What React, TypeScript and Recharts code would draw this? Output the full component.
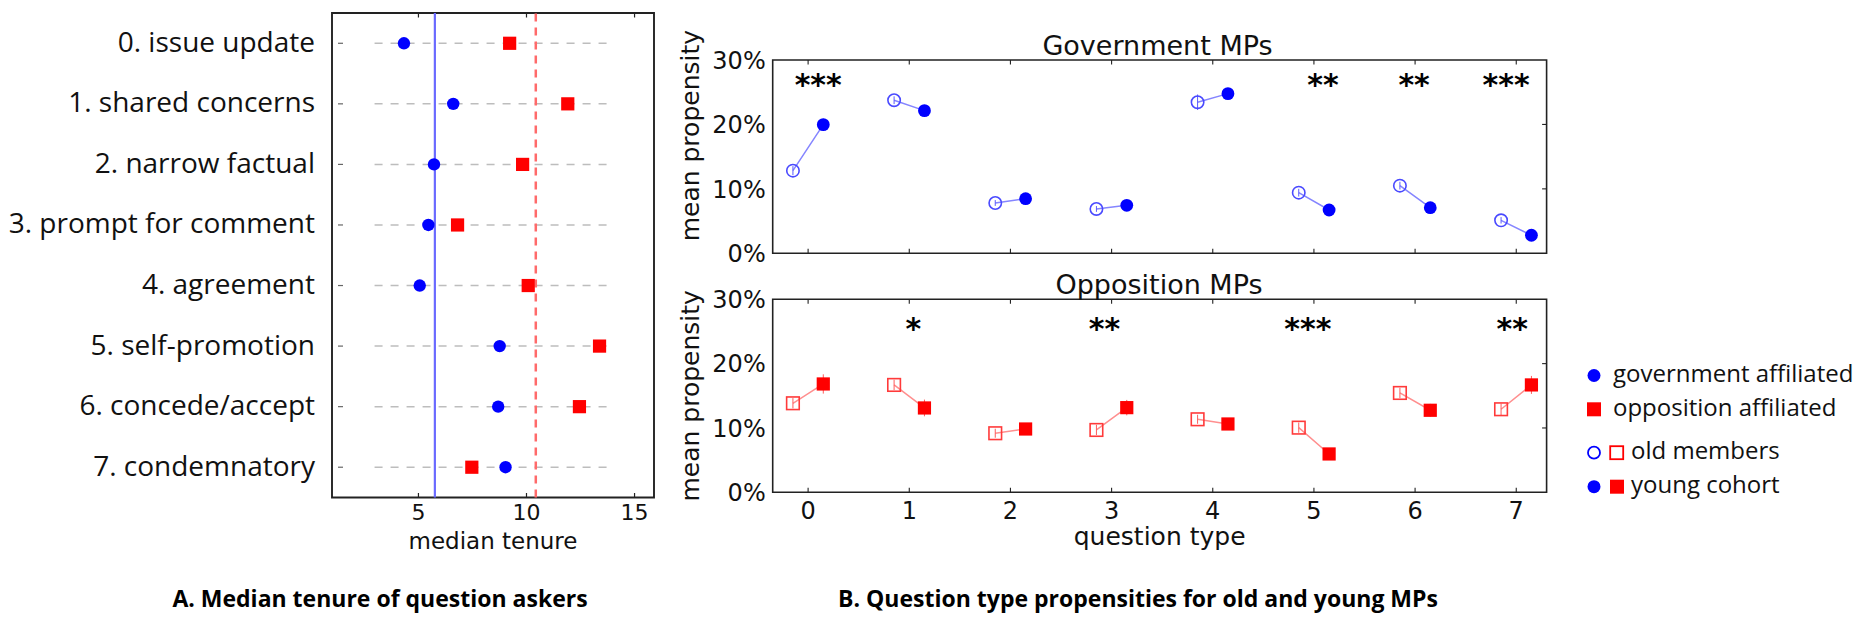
import React from 'react';
import {
  ComposedChart,
  Scatter,
  Line,
  XAxis,
  YAxis,
  ReferenceLine,
  ReferenceArea,
  ErrorBar,
  Label,
} from 'recharts';

// ---------- Panel A: median tenure of question askers ----------
const categories = [
  '0. issue update',
  '1. shared concerns',
  '2. narrow factual',
  '3. prompt for comment',
  '4. agreement',
  '5. self-promotion',
  '6. concede/accept',
  '7. condemnatory',
];
const categoryIndex = [0, 1, 2, 3, 4, 5, 6, 7];
const govMedianTenure = [4.33, 6.61, 5.72, 5.46, 5.06, 8.76, 8.69, 9.03];
const oppMedianTenure = [9.22, 11.91, 9.82, 6.81, 10.08, 13.38, 12.45, 7.47];
const govOverallTenure = 5.76;
const oppOverallTenure = 10.43;
const tenureTicks = [5, 10, 15];
const tenureDomain = [1, 15.9];
const rowDomain = [-0.5, 7.5];
const guideSpan = [2.97, 13.87];

// ---------- Panel B: question type propensities ----------
const questionTypes = [0, 1, 2, 3, 4, 5, 6, 7];
const govOld = [12.83, 23.76, 7.81, 6.88, 23.45, 9.41, 10.5, 5.12];
const govOldErr = [0.7, 0.6, 0.45, 0.45, 1.2, 0.6, 0.6, 0.5];
const govYoung = [19.97, 22.14, 8.48, 7.45, 24.78, 6.72, 7.08, 2.8];
const govYoungErr = [0.9, 0.8, 0.5, 0.5, 0.8, 0.6, 0.6, 0.5];
const oppOld = [13.84, 16.69, 9.18, 9.69, 11.35, 10.05, 15.44, 12.91];
const oppOldErr = [0.8, 0.8, 0.7, 0.8, 0.7, 0.8, 0.8, 0.9];
const oppYoung = [16.84, 13.11, 9.84, 13.16, 10.62, 5.96, 12.75, 16.69];
const oppYoungErr = [1.5, 1.3, 0.8, 1.2, 0.8, 0.7, 1.0, 1.4];
const govStarX = [0.1, 5.09, 5.99, 6.9];
const govStarText = ['***', '**', '**', '***'];
const govStarY = 24.6;
const oppStarX = [1.04, 2.93, 4.94, 6.96];
const oppStarText = ['*', '**', '***', '**'];
const oppStarY = 23.8;
const propensityTicks = [0, 10, 20, 30];
const propensityDomain = [0, 30];
const questionDomain = [-0.35, 7.3];
const cohortOffset = 0.15;

const BLUE = '#0000ff';
const RED = '#ff0000';
const DEJAVU = 'DejaVu Sans';
const OPEN = 'Open Sans';
const BOX = '#222';

// ---------- shapes ----------
const filledCircle = (fill: string, r: number) => (p: any) => (
  <circle cx={p.cx} cy={p.cy} r={r} fill={fill} />
);
const openCircle = (stroke: string, r: number) => (p: any) => (
  <circle cx={p.cx} cy={p.cy} r={r} fill="none" stroke={stroke} strokeWidth={1.6} />
);
const filledSquare = (fill: string, s: number) => (p: any) => (
  <rect x={p.cx - s / 2} y={p.cy - s / 2} width={s} height={s} fill={fill} />
);
const openSquare = (stroke: string, s: number) => (p: any) => (
  <rect x={p.cx - s / 2} y={p.cy - s / 2} width={s} height={s} fill="none" stroke={stroke} strokeWidth={1.6} />
);
const starShape = (p: any) => (
  <text x={p.cx} y={p.cy} textAnchor="middle" fontFamily={DEJAVU} fontWeight="bold" fontSize={30} fill="#000">
    {p.payload.s}
  </text>
);

// ---------- Panel A chart ----------
const A_W = 660;
const A_H = 560;
const A_TOP = 13;
const A_RIGHT = 6;
const A_YAXIS_W = 332;
const A_XAXIS_H = 62.5;
const A_PLOT_H = A_H - A_TOP - A_XAXIS_H;

const govTenureRows = categoryIndex.map((i) => ({ x: govMedianTenure[i], y: i }));
const oppTenureRows = categoryIndex.map((i) => ({ x: oppMedianTenure[i], y: i }));

const tenureXTick = (p: any) => (
  <g>
    <line x1={p.x} x2={p.x} y1={p.y} y2={p.y - 4.5} stroke={BOX} strokeWidth={1.2} />
    <line x1={p.x} x2={p.x} y1={p.y - A_PLOT_H} y2={p.y - A_PLOT_H + 4.5} stroke={BOX} strokeWidth={1.2} />
    <text x={p.x} y={p.y + 22.8} textAnchor="middle" fontFamily={DEJAVU} fontSize={22} fill="#111">
      {p.payload.value}
    </text>
  </g>
);
const categoryYTick = (p: any) => (
  <g>
    <line x1={p.x + 6} x2={p.x + 11} y1={p.y} y2={p.y} stroke="#666" strokeWidth={1.2} />
    <text x={p.x - 17} y={p.y + 8.5} textAnchor="end" fontFamily={OPEN} fontSize={28} fill="#111">
      {categories[p.payload.value]}
    </text>
  </g>
);

function TenurePanel() {
  return (
    <div style={{ position: 'absolute', left: 0, top: 0 }}>
      <ComposedChart width={A_W} height={A_H} margin={{ top: A_TOP, right: A_RIGHT, bottom: 0, left: 0 }}>
        <XAxis
          type="number"
          dataKey="x"
          domain={tenureDomain}
          ticks={tenureTicks}
          allowDataOverflow
          height={A_XAXIS_H}
          axisLine={false}
          tickLine={false}
          tickSize={0}
          tickMargin={0}
          tick={tenureXTick}
          interval={0}
        >
          <Label
            content={(lp: any) => (
              <text
                x={lp.viewBox.x + lp.viewBox.width / 2}
                y={lp.viewBox.y + 51.8}
                textAnchor="middle"
                fontFamily={DEJAVU}
                fontSize={23}
                fill="#111"
              >
                median tenure
              </text>
            )}
          />
        </XAxis>
        <YAxis
          type="number"
          domain={rowDomain}
          reversed
          ticks={categoryIndex}
          allowDataOverflow
          width={A_YAXIS_W}
          axisLine={false}
          tickLine={false}
          tickSize={0}
          tickMargin={0}
          tick={categoryYTick}
          interval={0}
        />
        {categoryIndex.map((i) => (
          <ReferenceLine
            key={'g' + i}
            segment={[
              { x: guideSpan[0], y: i },
              { x: guideSpan[1], y: i },
            ]}
            stroke="#bdbdbd"
            strokeWidth={1.5}
            strokeDasharray="8 8"
          />
        ))}
        <ReferenceLine x={govOverallTenure} stroke="#6a6aff" strokeWidth={2.2} />
        <ReferenceLine x={oppOverallTenure} stroke="#ff6a6a" strokeWidth={2.5} strokeDasharray="8 6" />
        <Scatter data={govTenureRows} dataKey="y" shape={filledCircle(BLUE, 6.2)} isAnimationActive={false} />
        <Scatter data={oppTenureRows} dataKey="y" shape={filledSquare(RED, 13.2)} isAnimationActive={false} />
        <ReferenceArea
          x1={tenureDomain[0]}
          x2={tenureDomain[1]}
          y1={rowDomain[0]}
          y2={rowDomain[1]}
          fill="none"
          fillOpacity={0}
          stroke={BOX}
          strokeWidth={1.9}
        />
      </ComposedChart>
    </div>
  );
}

// ---------- Panel B charts ----------
const B_LEFT = 660;
const B_W = 900;
const B_YAXIS_W = 112.7;
const B_RIGHT = 13.4;
const B_PLOT_W = B_W - B_YAXIS_W - B_RIGHT;

const pairRows = (old: number[], young: number[]) =>
  questionTypes.flatMap((q) => [
    { x: q - cohortOffset, y: old[q] },
    { x: q + cohortOffset, y: young[q] },
    { x: q + 0.5, y: null },
  ]);
const cohortRows = (vals: number[], errs: number[], shift: number) =>
  questionTypes.map((q) => ({ x: q + shift, y: vals[q], e: errs[q] }));
const starRows = (xs: number[], texts: string[], y: number) => xs.map((x, k) => ({ x, y, s: texts[k] }));

type PanelProps = {
  top: number;
  height: number;
  marginTop: number;
  plotH: number;
  labelShift: number;
  old: number[];
  oldErr: number[];
  young: number[];
  youngErr: number[];
  party: 'gov' | 'opp';
  starX: number[];
  starText: string[];
  starY: number;
  showX: boolean;
};

function PropensityPanel(props: PanelProps) {
  const plotH = props.plotH;
  const xAxisH = props.height - props.marginTop - plotH;
  const isGov = props.party === 'gov';
  const main = isGov ? BLUE : RED;
  const light = isGov ? '#8585ff' : '#ff8f8f';
  const oldStroke = isGov ? '#4a4aff' : '#ff3a3a';
  const errColor = isGov ? '#5b5bff' : '#ff5b5b';

  const xTick = (p: any) => (
    <g>
      <line x1={p.x} x2={p.x} y1={p.y} y2={p.y - 4.5} stroke={BOX} strokeWidth={1.1} />
      <line x1={p.x} x2={p.x} y1={p.y - plotH} y2={p.y - plotH + 4.5} stroke={BOX} strokeWidth={1.1} />
      {props.showX && (
        <text x={p.x} y={p.y + 26.4} textAnchor="middle" fontFamily={DEJAVU} fontSize={24} fill="#111">
          {p.payload.value}
        </text>
      )}
    </g>
  );
  const yTick = (p: any) => (
    <g>
      {p.payload.value > 0 && p.payload.value < 30 && (
        <line x1={p.x + B_PLOT_W} x2={p.x + B_PLOT_W - 4.5} y1={p.y} y2={p.y} stroke={BOX} strokeWidth={1.1} />
      )}
      <text x={p.x - 7} y={p.y + 8.7} textAnchor="end" fontFamily={DEJAVU} fontSize={24} fill="#111">
        {p.payload.value + '%'}
      </text>
    </g>
  );

  return (
    <div style={{ position: 'absolute', left: B_LEFT, top: props.top }}>
      <ComposedChart
        width={B_W}
        height={props.height}
        data={pairRows(props.old, props.young)}
        margin={{ top: props.marginTop, right: B_RIGHT, bottom: 0, left: 0 }}
      >
        <XAxis
          type="number"
          dataKey="x"
          domain={questionDomain}
          ticks={questionTypes}
          allowDataOverflow
          height={xAxisH}
          axisLine={false}
          tickLine={false}
          tickSize={0}
          tickMargin={0}
          tick={xTick}
          interval={0}
        >
          {props.showX && (
            <Label
              content={(lp: any) => (
                <text
                  x={lp.viewBox.x + lp.viewBox.width / 2}
                  y={lp.viewBox.y + 52.7}
                  textAnchor="middle"
                  fontFamily={DEJAVU}
                  fontSize={25}
                  fill="#111"
                >
                  question type
                </text>
              )}
            />
          )}
        </XAxis>
        <YAxis
          type="number"
          domain={propensityDomain}
          ticks={propensityTicks}
          allowDataOverflow
          width={B_YAXIS_W}
          axisLine={false}
          tickLine={false}
          tickSize={0}
          tickMargin={0}
          tick={yTick}
          interval={0}
        >
          <Label
            content={(lp: any) => (
              <text
                transform={`translate(${lp.viewBox.x + 39}, ${lp.viewBox.y + plotH / 2 + props.labelShift}) rotate(-90)`}
                textAnchor="middle"
                fontFamily={DEJAVU}
                fontSize={25}
                fill="#111"
              >
                mean propensity
              </text>
            )}
          />
        </YAxis>
        <Line
          dataKey="y"
          stroke={light}
          strokeWidth={1.5}
          dot={false}
          activeDot={false}
          connectNulls={false}
          isAnimationActive={false}
        />
        <Scatter
          data={cohortRows(props.old, props.oldErr, -cohortOffset)}
          dataKey="y"
          shape={isGov ? openCircle(oldStroke, 6.2) : openSquare(oldStroke, 12.6)}
          isAnimationActive={false}
        >
          <ErrorBar dataKey="e" direction="y" width={0} stroke={errColor} strokeWidth={1} />
        </Scatter>
        <Scatter
          data={cohortRows(props.young, props.youngErr, cohortOffset)}
          dataKey="y"
          shape={isGov ? filledCircle(main, 6.4) : filledSquare(main, 13.2)}
          isAnimationActive={false}
        >
          <ErrorBar dataKey="e" direction="y" width={0} stroke={errColor} strokeWidth={1} />
        </Scatter>
        <Scatter
          data={starRows(props.starX, props.starText, props.starY)}
          dataKey="y"
          shape={starShape}
          isAnimationActive={false}
        />
        <ReferenceArea
          x1={questionDomain[0]}
          x2={questionDomain[1]}
          y1={propensityDomain[0]}
          y2={propensityDomain[1]}
          fill="none"
          fillOpacity={0}
          stroke={BOX}
          strokeWidth={1.6}
        />
      </ComposedChart>
    </div>
  );
}

function Overlay() {
  const legendText = { fontFamily: OPEN, fontSize: 24, fill: '#111' } as const;
  return (
    <svg
      width={1856}
      height={642}
      style={{ position: 'absolute', left: 0, top: 0, pointerEvents: 'none' }}
    >
      <text x={1157.5} y={55} textAnchor="middle" fontFamily={DEJAVU} fontSize={27} fill="#111">
        Government MPs
      </text>
      <text x={1159} y={294} textAnchor="middle" fontFamily={DEJAVU} fontSize={27} fill="#111">
        Opposition MPs
      </text>

      {/* legend */}
      <circle cx={1594} cy={375.5} r={6.5} fill={BLUE} />
      <text x={1613} y={382} {...legendText}>government affiliated</text>
      <rect x={1587} y={402.3} width={14} height={14} fill={RED} />
      <text x={1613} y={415.8} {...legendText}>opposition affiliated</text>
      <circle cx={1594} cy={452.7} r={6} fill="none" stroke={BLUE} strokeWidth={1.8} />
      <rect x={1610.2} y={446.2} width={13} height={13} fill="none" stroke={RED} strokeWidth={1.8} />
      <text x={1631} y={459.2} {...legendText}>old members</text>
      <circle cx={1594} cy={486.7} r={6.5} fill={BLUE} />
      <rect x={1610} y={479.7} width={14} height={14} fill={RED} />
      <text x={1631} y={493.2} {...legendText}>young cohort</text>

      {/* captions */}
      <text x={380} y={607} textAnchor="middle" fontFamily={OPEN} fontWeight="bold" fontSize={23} fill="#000">
        A. Median tenure of question askers
      </text>
      <text x={1138} y={607} textAnchor="middle" fontFamily={OPEN} fontWeight="bold" fontSize={23} fill="#000">
        B. Question type propensities for old and young MPs
      </text>
    </svg>
  );
}

export default function App() {
  return (
    <div
      style={{
        position: 'absolute',
        left: 0,
        top: 0,
        width: 1856,
        height: 642,
        background: '#fff',
        overflow: 'hidden',
      }}
    >
      <TenurePanel />
      <PropensityPanel
        top={0}
        height={290}
        marginTop={60}
        plotH={193.3}
        labelShift={-21}
        old={govOld}
        oldErr={govOldErr}
        young={govYoung}
        youngErr={govYoungErr}
        party="gov"
        starX={govStarX}
        starText={govStarText}
        starY={govStarY}
        showX={false}
      />
      <PropensityPanel
        top={240}
        height={320}
        marginTop={59.3}
        plotH={193}
        labelShift={0}
        old={oppOld}
        oldErr={oppOldErr}
        young={oppYoung}
        youngErr={oppYoungErr}
        party="opp"
        starX={oppStarX}
        starText={oppStarText}
        starY={oppStarY}
        showX={true}
      />
      <Overlay />
    </div>
  );
}
